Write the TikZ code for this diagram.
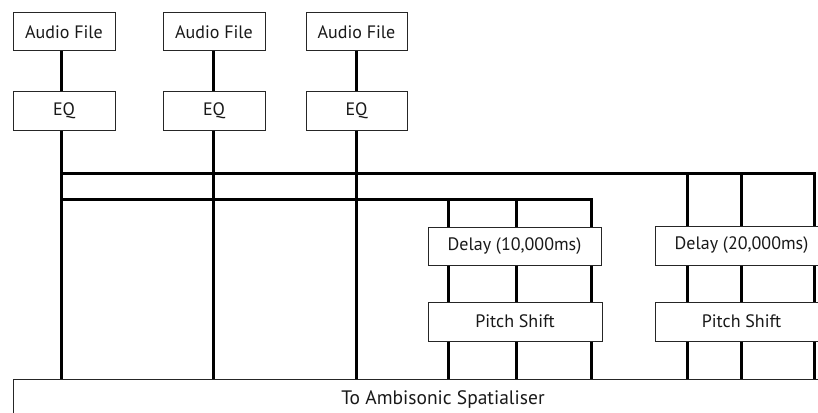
\documentclass[tikz,border=0pt]{standalone}
\usepackage{fontspec}
\setmainfont{PT Sans}
\begin{document}
\begin{tikzpicture}[x=1pt,y=-1pt]
\tikzset{
  box/.style={draw=black!85, line width=1pt, inner sep=0pt, fill=white,
    text=black!90, font=\fontsize{18}{21}\selectfont},
  wire/.style={line width=3pt, line join=miter, line cap=butt},
}
\useasboundingbox (0,0) rectangle (818,412);
\clip (0,0) rectangle (818,412);
% boxes
\node[box, minimum width=102pt, minimum height=38pt] (af1) at (64,32) {Audio File};
\node[box, minimum width=102pt, minimum height=38pt] (af2) at (214,32) {Audio File};
\node[box, minimum width=101pt, minimum height=38pt] (af3) at (356.5,32) {Audio File};
\node[box, minimum width=102pt, minimum height=39pt] (eq1) at (64,110.5) {EQ};
\node[box, minimum width=102pt, minimum height=39pt] (eq2) at (214,110.5) {EQ};
\node[box, minimum width=101pt, minimum height=39pt] (eq3) at (356.5,110.5) {EQ};
\node[box, minimum width=173pt, minimum height=38pt] (d1) at (514.5,246) {Delay (10,000ms)};
\node[box, minimum width=174pt, minimum height=39pt] (p1) at (515,321.5) {Pitch Shift};
\node[box, minimum width=173pt, minimum height=39pt] (d2) at (741.5,245.5) {Delay (20,000ms)};
\node[box, minimum width=173pt, minimum height=39pt] (p2) at (741.5,321.5) {Pitch Shift};
\node[box, minimum width=860pt, minimum height=40pt, anchor=north,
  font=\fontsize{19.5}{22}\selectfont] (out) at (443,379) {To Ambisonic Spatialiser};
% wire x positions
\coordinate (x1) at (61,0);
\coordinate (x2) at (213,0);
\coordinate (x3) at (356,0);
\coordinate (x4) at (448,0);
\coordinate (x5) at (516,0);
\coordinate (x6) at (591,0);
\coordinate (x7) at (687,0);
\coordinate (x8) at (741,0);
\coordinate (x9) at (814,0);
\coordinate (busA) at (0,173);
\coordinate (busB) at (0,199);
% audio -> eq
\draw[wire] (af1.south -| x1) -- (eq1.north -| x1);
\draw[wire] (af2.south -| x2) -- (eq2.north -| x2);
\draw[wire] (af3.south -| x3) -- (eq3.north -| x3);
% eq -> out
\draw[wire] (eq1.south -| x1) -- (out.north -| x1);
\draw[wire] (eq2.south -| x2) -- (out.north -| x2);
\draw[wire] (eq3.south -| x3) -- (out.north -| x3);
% buses
\draw[wire] (busA -| x1) -- (busA -| x9) -- (d2.north -| x9);
\draw[wire] (busB -| x1) -- (busB -| x6) -- (d1.north -| x6);
\draw[wire] (busB -| x4) -- (d1.north -| x4);
\draw[wire] (busB -| x5) -- (d1.north -| x5);
\draw[wire] (busA -| x7) -- (d2.north -| x7);
\draw[wire] (busA -| x8) -- (d2.north -| x8);
% delay -> pitch -> out
\foreach \c in {x4,x5,x6} {
  \draw[wire] (d1.south -| \c) -- (p1.north -| \c);
  \draw[wire] (p1.south -| \c) -- (out.north -| \c);
}
\foreach \c in {x7,x8,x9} {
  \draw[wire] (d2.south -| \c) -- (p2.north -| \c);
  \draw[wire] (p2.south -| \c) -- (out.north -| \c);
}
\end{tikzpicture}
\end{document}
